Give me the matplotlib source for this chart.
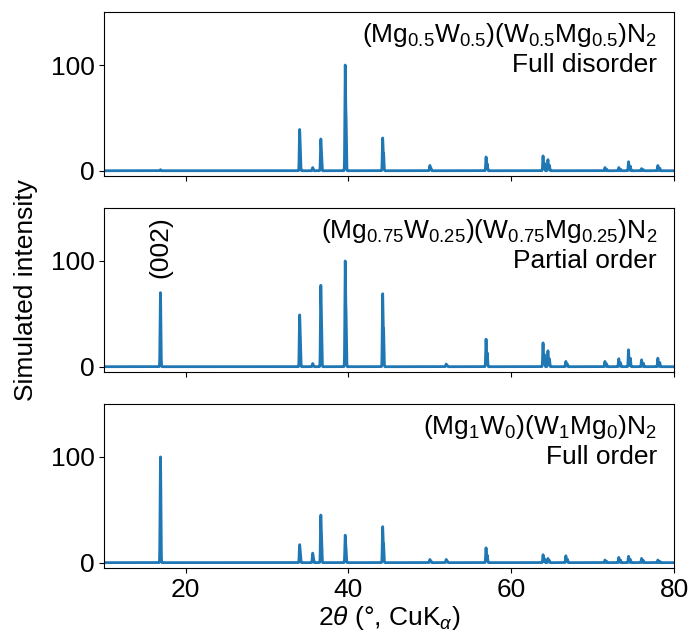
import numpy as np
import matplotlib
matplotlib.use("Agg")
import matplotlib.pyplot as plt

plt.rcParams['font.family'] = ['Liberation Sans', 'DejaVu Sans']
plt.rcParams['mathtext.fontset'] = 'custom'
plt.rcParams['mathtext.rm'] = 'Liberation Sans'
plt.rcParams['mathtext.it'] = 'Liberation Sans:italic'
plt.rcParams['mathtext.bf'] = 'Liberation Sans:bold'

# Peak positions (2theta, degrees, Cu K-alpha1)
peak_pos = [16.9, 34.0, 35.6, 36.6, 39.6, 44.2, 50.0, 52.0, 56.9, 63.9, 64.5,
            66.7, 71.5, 73.2, 74.4, 76.0, 78.0]
# Relative intensities per panel
h_disorder = [1, 39, 3, 30, 100, 31, 5, 0, 13, 14, 10.5, 0, 3, 3, 8.5, 2, 5]
h_partial = [70, 49, 3, 77, 100, 69, 0, 2.5, 26, 22.5, 15, 5, 5, 7.5, 16, 6.5, 8]
h_order = [100, 17, 9, 45, 26, 34, 3, 3, 14, 7.5, 4, 6.5, 2.5, 5, 6, 4, 2.5]

formulas = [r'(Mg$_{0.5}$W$_{0.5}$)(W$_{0.5}$Mg$_{0.5}$)N$_2$',
            r'(Mg$_{0.75}$W$_{0.25}$)(W$_{0.75}$Mg$_{0.25}$)N$_2$',
            r'(Mg$_1$W$_0$)(W$_1$Mg$_0$)N$_2$']
orders = ['Full disorder', 'Partial order', 'Full order']
xticks = [20, 40, 60, 80]
yticks = [0, 100]

LAM1, LAM2 = 1.5406, 1.5444
FWHM = 0.10
x = np.arange(10, 80.0001, 0.004)


def pattern(pos, heights):
    y = np.zeros_like(x)
    sig = FWHM / 2.3548
    for p, h in zip(pos, heights):
        if h <= 0:
            continue
        th = np.radians(p / 2)
        p2 = 2 * np.degrees(np.arcsin(min(LAM2 / LAM1 * np.sin(th), 1)))
        prof = np.exp(-0.5 * ((x - p) / sig) ** 2) + 0.5 * np.exp(-0.5 * ((x - p2) / sig) ** 2)
        y += h * prof / prof.max()
    return y


fig, axes = plt.subplots(3, 1, figsize=(6.9, 6.41), dpi=100, sharex=True)
fig.subplots_adjust(left=0.151, right=0.977, top=0.981, bottom=0.114, hspace=0.196)

for ax, hs, f, o in zip(axes, [h_disorder, h_partial, h_order], formulas, orders):
    ax.plot(x, pattern(peak_pos, hs), color='#1f77b4', lw=2)
    ax.set_xlim(10, 80)
    ax.set_ylim(-5, 150)
    ax.set_yticks(yticks)
    ax.tick_params(labelsize=19)
    ax.text(0.97, 0.945, f + '\n' + o, transform=ax.transAxes, ha='right', va='top',
            fontsize=19, linespacing=1.2)

axes[1].text(peak_pos[0], 113, '(002)', rotation=90, ha='center', va='center', fontsize=19)
axes[2].set_xticks(xticks)
axes[2].set_xlabel(r'2$\theta$ ($\degree$, CuK$_\alpha$)', fontsize=19, labelpad=2)
fig.text(0.037, 0.548, 'Simulated intensity', rotation=90, ha='center', va='center', fontsize=19)

fig.savefig('out.png', dpi=100)
